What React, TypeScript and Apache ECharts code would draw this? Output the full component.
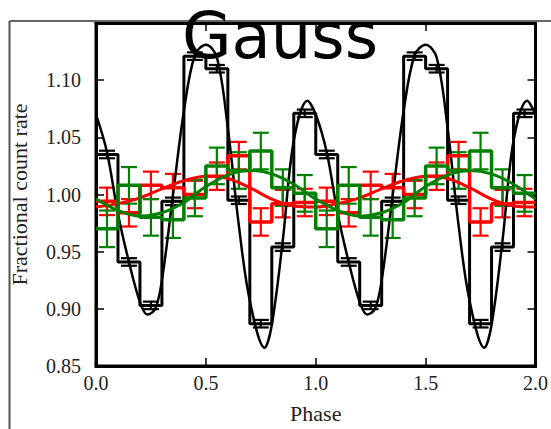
import React, { useEffect, useRef } from "react";
import * as echarts from "echarts";

// ---- data (one phase cycle, plotted twice: phase 0-1 and 1-2) ----
const cycles = [0, 1];
const binWidth = 0.1;
const binCenters = [0.05, 0.15, 0.25, 0.35, 0.45, 0.55, 0.65, 0.75, 0.85, 0.95];

const blackRate = [1.035, 0.941, 0.903, 0.994, 1.121, 1.110, 0.995, 0.887, 0.954, 1.071];
const blackErr = [0.0033, 0.0033, 0.0033, 0.0033, 0.0033, 0.0033, 0.0033, 0.0033, 0.0033, 0.0033];
const redRate = [0.994, 0.984, 1.008, 1.006, 1.0, 1.016, 1.034, 0.976, 0.992, 0.993];
const redErr = [0.012, 0.012, 0.012, 0.012, 0.012, 0.012, 0.012, 0.012, 0.012, 0.012];
const greenRate = [0.970, 1.008, 0.980, 0.978, 0.997, 1.025, 1.021, 1.038, 1.006, 1.001];
const greenErr = [0.016, 0.016, 0.016, 0.016, 0.016, 0.016, 0.016, 0.016, 0.016, 0.016];

const blackCurvePhase = [0, 0.05, 0.1, 0.15, 0.2, 0.234, 0.27, 0.3, 0.35, 0.4, 0.45, 0.5, 0.55, 0.6, 0.65, 0.7, 0.767, 0.8, 0.85, 0.9, 0.962];
const blackCurveRate = [1.070, 1.037, 0.983, 0.941, 0.906, 0.895, 0.900, 0.925, 0.999, 1.073, 1.122, 1.131, 1.120, 1.058, 0.973, 0.907, 0.866, 0.886, 0.960, 1.047, 1.082];
const colCurvePhase = [0, 0.1, 0.2, 0.3, 0.4, 0.5, 0.6, 0.7, 0.8, 0.9];
const redCurveRate = [0.989, 0.992, 0.997, 1.005, 1.012, 1.016, 1.014, 1.006, 0.996, 0.990];
const greenCurveRate = [0.996, 0.986, 0.981, 0.984, 0.993, 1.007, 1.017, 1.021, 1.018, 1.009];

const xMin = 0, xMax = 2, xStep = 0.5;
const yMin = 0.85, yMax = 1.15, yStep = 0.05;

const SERIF = "'Liberation Serif', 'Times New Roman', serif";

function stepData(rate: number[]) {
  const out: number[][] = [];
  cycles.forEach((c) => rate.forEach((r, i) => out.push([c + binCenters[i] - binWidth / 2, r])));
  out.push([xMax, rate[rate.length - 1]]);
  return out;
}
function errData(rate: number[], err: number[]) {
  const out: number[][] = [];
  cycles.forEach((c) => rate.forEach((r, i) => out.push([c + binCenters[i], r, err[i]])));
  return out;
}
function curveData(phase: number[], rate: number[]) {
  const out: number[][] = [];
  cycles.forEach((c) => phase.forEach((p, i) => out.push([c + p, rate[i]])));
  out.push([xMax, rate[0]]);
  return out;
}

function errSeries(rate: number[], err: number[], color: string) {
  return {
    type: "custom",
    data: errData(rate, err),
    encode: { x: 0, y: 1 },
    clip: true,
    renderItem: (params: any, api: any) => {
      const x = api.value(0), y = api.value(1), e = api.value(2);
      const top = api.coord([x, y + e]);
      const bot = api.coord([x, y - e]);
      const hw = 8;
      const style = { stroke: color, lineWidth: 2.2 };
      return {
        type: "group",
        children: [
          { type: "line", shape: { x1: top[0], y1: top[1], x2: bot[0], y2: bot[1] }, style },
          { type: "line", shape: { x1: top[0] - hw, y1: top[1], x2: top[0] + hw, y2: top[1] }, style },
          { type: "line", shape: { x1: bot[0] - hw, y1: bot[1], x2: bot[0] + hw, y2: bot[1] }, style },
        ],
      };
    },
  };
}
function stepSeries(rate: number[], color: string, width: number) {
  return {
    type: "line", step: "end", data: stepData(rate), showSymbol: false,
    lineStyle: { color, width }, clip: true,
  };
}
function curveSeries(phase: number[], rate: number[], color: string, width: number) {
  return {
    type: "line", smooth: 0.35, data: curveData(phase, rate), showSymbol: false,
    lineStyle: { color, width }, clip: true,
  };
}

export default function App() {
  const ref = useRef<HTMLDivElement>(null);
  useEffect(() => {
    const chart = echarts.init(ref.current!, null, { renderer: "svg" });
    const axisLine = { show: true, onZero: false, lineStyle: { color: "#000", width: 3 } };
    const axisTick = { show: true, inside: true, length: 8, lineStyle: { color: "#000", width: 1.5 } };
    chart.setOption({
      animation: false,
      backgroundColor: "#fff",
      grid: { left: 95, right: 12.5, top: 23, bottom: 62.5, show: true, borderColor: "#000", borderWidth: 3 },
      xAxis: [
        {
          type: "value", min: xMin, max: xMax, interval: xStep, position: "bottom",
          axisLine, axisTick, splitLine: { show: false },
          axisLabel: { formatter: (v: number) => v.toFixed(1), fontFamily: SERIF, fontSize: 20, color: "#222", margin: 7 },
          name: "Phase", nameLocation: "middle", nameGap: 36,
          nameTextStyle: { fontFamily: SERIF, fontSize: 22, color: "#222" },
        },
        {
          type: "value", min: xMin, max: xMax, interval: xStep, position: "top",
          axisLine, axisTick, splitLine: { show: false }, axisLabel: { show: false },
        },
      ],
      yAxis: [
        {
          type: "value", min: yMin, max: yMax, interval: yStep, position: "left",
          axisLine, axisTick, splitLine: { show: false },
          axisLabel: {
            formatter: (v: number) => (v > yMax - yStep / 2 ? "" : v.toFixed(2)),
            fontFamily: SERIF, fontSize: 20, color: "#222", margin: 15,
          },
          name: "Fractional count rate", nameLocation: "middle", nameGap: 66, nameRotate: 90,
          nameTextStyle: { fontFamily: SERIF, fontSize: 22, color: "#222" },
        },
        {
          type: "value", min: yMin, max: yMax, interval: yStep, position: "right",
          axisLine, axisTick, splitLine: { show: false }, axisLabel: { show: false },
        },
      ],
      series: [
        stepSeries(blackRate, "#000", 3),
        errSeries(blackRate, blackErr, "#000"),
        curveSeries(blackCurvePhase, blackCurveRate, "#000", 2.5),
        stepSeries(redRate, "#ff0000", 3.5),
        errSeries(redRate, redErr, "#ff0000"),
        curveSeries(colCurvePhase, redCurveRate, "#ff0000", 3),
        stepSeries(greenRate, "#008000", 3.5),
        errSeries(greenRate, greenErr, "#008000"),
        curveSeries(colCurvePhase, greenCurveRate, "#008000", 3),
      ],
      graphic: [
        { type: "line", z: 100, shape: { x1: 9.5, y1: 21, x2: 551, y2: 21 }, style: { stroke: "#666", lineWidth: 2 } },
        { type: "line", z: 100, shape: { x1: 9.5, y1: 21, x2: 9.5, y2: 429 }, style: { stroke: "#555", lineWidth: 2 } },
        {
          type: "text", z: 101, x: 280, y: 36,
          style: { text: "Gauss", fontFamily: "'DejaVu Sans', sans-serif", fontSize: 64, fill: "#000", textAlign: "center", textVerticalAlign: "middle" },
        },
      ],
    });
    return () => chart.dispose();
  }, []);
  return <div ref={ref} style={{ position: "fixed", left: 0, top: 0, width: 551, height: 429 }} />;
}
